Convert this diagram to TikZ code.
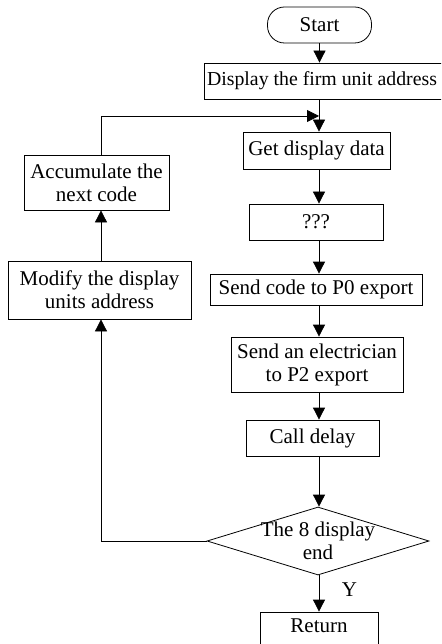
\documentclass[tikz,border=0pt]{standalone}
\usepackage{fontspec}
\setmainfont{Liberation Serif}
\usetikzlibrary{arrows.meta,shapes.geometric}

\tikzset{every picture/.style={line width=0.8pt}}
\tikzset{
  procbox/.style={draw, rectangle, align=center, inner sep=0pt, font=\fontsize{21}{23}\selectfont},
  startbox/.style={procbox, rounded corners=17pt},
  testbox/.style={draw, diamond, aspect=3.26, inner sep=0pt},
  plaintext/.style={align=center, inner sep=0pt, font=\fontsize{21}{23}\selectfont},
  flow/.style={-{Triangle[length=12pt,width=12pt]}}
}

\begin{document}
\begin{tikzpicture}[x=1pt,y=1pt,yscale=-1,xscale=1]
\useasboundingbox (0,0) rectangle (441,644);
\clip (0,0) rectangle (441,644);

% Text Node
\node [startbox, minimum width=104pt, minimum height=36pt] (start) at (319.5,25) {Start};
% Text Node
\node [procbox, minimum width=240pt, minimum height=36pt, font=\fontsize{19.8}{23}\selectfont] (disp) at (324,81) {\hspace*{-4pt}Display the firm unit address};
% Text Node
\node [procbox, minimum width=147pt, minimum height=37pt] (get) at (316.5,150.5) {Get display data};
% Text Node
\node [procbox, minimum width=134pt, minimum height=36pt] (qqq) at (316,222) {???};
% Text Node
\node [procbox, minimum width=212pt, minimum height=31pt] (pzero) at (316,289.5) {Send code to P0 export};
% Text Node
\node [procbox, minimum width=172pt, minimum height=55pt] (ptwo) at (317,364.5) {Send an electrician\\to P2 export};
% Text Node
\node [procbox, minimum width=133pt, minimum height=36pt] (delay) at (312.5,438) {Call delay};
% Decision
\node [testbox, minimum width=222pt, minimum height=68pt] (ends) at (318,541) {};
\node [plaintext] (endstxt) at (ends.center) {The 8 display\\end};
% Text Node
\node [procbox, minimum width=118pt, minimum height=36pt] (ret) at (319,630) {};
\node [plaintext] (rettxt) at (319,626) {Return};
% Text Node
\node [procbox, minimum width=145pt, minimum height=55pt] (acc) at (96.5,182.5) {Accumulate the\\next code};
% Text Node
\node [procbox, minimum width=183pt, minimum height=58pt] (mod) at (99.5,290) {Modify the display\\units address};
% Text Node
\node [plaintext] (yes) at (349.5,590) {Y};

% Straight Lines
\coordinate (axis) at (319,0);
\coordinate (join) at (319,116);
\coordinate (side) at (101,0);
\draw [flow] (start.south) -- (start.south |- disp.north);
\draw [flow] (axis |- disp.south) -- (axis |- get.north);
\draw [flow] (axis |- get.south) -- (axis |- qqq.north);
\draw [flow] (axis |- qqq.south) -- (axis |- pzero.north);
\draw [flow] (axis |- pzero.south) -- (axis |- ptwo.north);
\draw [flow] (axis |- ptwo.south) -- (axis |- delay.north);
\draw [flow] (axis |- delay.south) -- (axis |- ends.north);
\draw [flow] (axis |- ends.south) -- (axis |- ret.north);
% loop back
\draw [flow] (ends.west) -- (side |- ends.west) -- (side |- mod.south);
\draw [flow] (side |- mod.north) -- (side |- acc.south);
\draw [flow] (side |- acc.north) -- (side |- join) -- (join);

\end{tikzpicture}
\end{document}
